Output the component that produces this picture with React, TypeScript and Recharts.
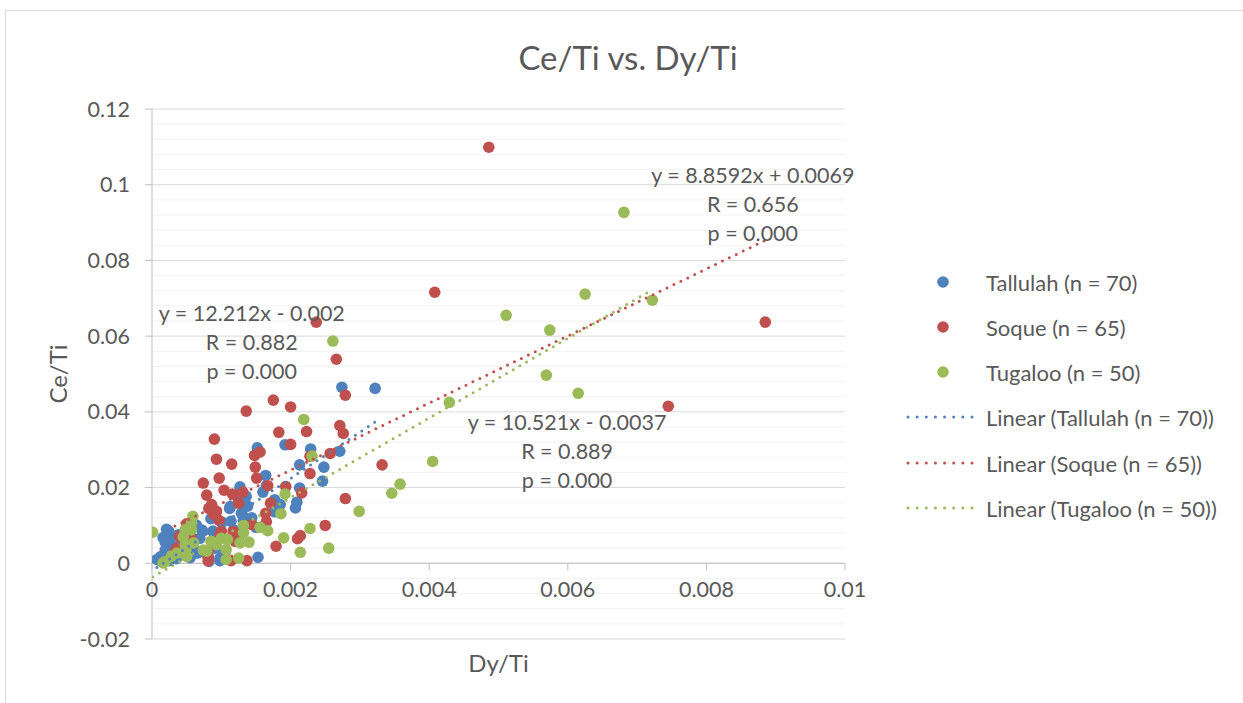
import { ScatterChart, Scatter, XAxis, YAxis, CartesianGrid, ReferenceLine, ReferenceDot, Label } from 'recharts';

const FONT = 'Lato, "Liberation Sans", sans-serif';
const TEXT = '#595959';
const BLUE = '#4F81BD';
const RED = '#C0504D';
const GREEN = '#9BBB59';

// chart frame
const W = 1243;
const H = 703;
const PLOT_LEFT = 152;
const PLOT_RIGHT = 845;
const PLOT_TOP = 109;
const PLOT_BOTTOM = 639;
const Y_MIN = -0.02;
const Y_MAX = 0.12;
const ZERO_Y = PLOT_TOP + ((PLOT_BOTTOM - PLOT_TOP) * Y_MAX) / (Y_MAX - Y_MIN);

const xTicks = [0, 0.002, 0.004, 0.006, 0.008, 0.01];
const yTicks = [-0.02, 0, 0.02, 0.04, 0.06, 0.08, 0.1, 0.12];
const yMinorTicks: number[] = [];
for (let k = 0; k <= 35; k++) {
  if (k % 5 !== 0) yMinorTicks.push(+(Y_MIN + k * 0.004).toFixed(4));
}

// Dy/Ti, Ce/Ti pairs
const tallulah: [number, number][] = [
  [0.00322, 0.0462], [0.00274, 0.0465], [0.00192, 0.0313], [0.00152, 0.0305], [0.00229, 0.0302],
  [0.00271, 0.0296], [0.00248, 0.0254], [0.00246, 0.0217], [0.00213, 0.026], [0.00213, 0.0199],
  [0.00209, 0.0161], [0.00207, 0.0146], [0.00164, 0.0232], [0.00165, 0.0205], [0.00127, 0.0202],
  [0.00136, 0.0177], [0.00138, 0.0151], [0.00112, 0.0145], [0.00114, 0.0111], [0.00177, 0.0168],
  [0.00177, 0.0136], [0.00144, 0.012], [0.00132, 0.0114], [0.00101, 0.0108], [0.00088, 0.0085],
  [0.00073, 0.0085], [0.0006, 0.0063], [0.00024, 0.0085], [0.00019, 0.0056], [0.00031, 0.004],
  [0.00007, 0.001], [0.00025, 0.0007], [0.00043, 0.0023], [0.00065, 0.0027], [0.00082, 0.0005],
  [0.00098, 0.0007], [0.00153, 0.0016], [0.00127, 0.0076], [0.00021, 0.009], [0.00026, 0.0062],
  [0.00019, 0.0035], [0.00012, 0.0017], [0.00014, 0.0004], [0.00047, 0.0079], [0.00038, 0.0044],
  [0.00057, 0.0053], [0.00069, 0.0066], [0.00072, 0.0088], [0.00069, 0.0031], [0.00081, 0.0017],
  [0.00098, 0.0013], [0.00113, 0.015], [0.00125, 0.0167], [0.00129, 0.0132], [0.00064, 0.0101],
  [0.00096, 0.0079], [0.00091, 0.004], [0.00038, 0.0075], [0.00052, 0.0031], [0.00132, 0.0123],
  [0.00035, 0.0012], [0.00055, 0.0015], [0.00016, 0.0068], [0.00085, 0.0118], [0.00118, 0.0088],
  [0.00042, 0.0058], [0.00105, 0.0027], [0.0015, 0.0095], [0.00185, 0.0155], [0.0016, 0.0188],
];

const soque: [number, number][] = [
  [0.00486, 0.1099], [0.00408, 0.0716], [0.00885, 0.0637], [0.00745, 0.0415], [0.00237, 0.0637],
  [0.00266, 0.0539], [0.00279, 0.0444], [0.00175, 0.0431], [0.002, 0.0413], [0.00136, 0.0402],
  [0.00271, 0.0364], [0.00276, 0.0343], [0.00183, 0.0346], [0.002, 0.0314], [0.00223, 0.0348],
  [0.0009, 0.0328], [0.00332, 0.026], [0.00279, 0.0171], [0.00093, 0.0275], [0.00115, 0.0262],
  [0.00074, 0.0212], [0.00079, 0.018], [0.00097, 0.0225], [0.00149, 0.0254], [0.00148, 0.0285],
  [0.00156, 0.0294], [0.00151, 0.0225], [0.00228, 0.0237], [0.00228, 0.0283], [0.00104, 0.0193],
  [0.00116, 0.0183], [0.00131, 0.0188], [0.00125, 0.0159], [0.00167, 0.0205], [0.00171, 0.0159],
  [0.00193, 0.0203], [0.00216, 0.0186], [0.00164, 0.0132], [0.00082, 0.0145], [0.00089, 0.0129],
  [0.00097, 0.0113], [0.0005, 0.0104], [0.00098, 0.0076], [0.00081, 0.0018], [0.00114, 0.0007],
  [0.00137, 0.0007], [0.00179, 0.0045], [0.0021, 0.0065], [0.00214, 0.0073], [0.0025, 0.01],
  [0.0012, 0.0076], [0.0004, 0.0071], [0.00036, 0.004], [0.00086, 0.0155], [0.00093, 0.0137],
  [0.001, 0.0085], [0.0012, 0.0058], [0.00081, 0.0032], [0.00081, 0.0006], [0.00257, 0.029],
  [0.00144, 0.0102], [0.00165, 0.011], [0.00056, 0.0071], [0.00033, 0.0031], [0.00117, 0.0084],
];

const tugaloo: [number, number][] = [
  [0.00681, 0.0927], [0.00625, 0.0711], [0.00722, 0.0695], [0.00511, 0.0655], [0.00574, 0.0616],
  [0.00569, 0.0497], [0.00615, 0.0449], [0.00429, 0.0425], [0.00261, 0.0587], [0.00219, 0.038],
  [0.00405, 0.0269], [0.00358, 0.0209], [0.00346, 0.0185], [0.00299, 0.0137], [0.00255, 0.004],
  [0.00214, 0.0029], [0.00228, 0.0092], [0.00231, 0.0283], [0.00001, 0.0082], [0.0019, 0.0067],
  [0.00192, 0.0183], [0.00186, 0.0131], [0.00156, 0.0095], [0.00167, 0.0086], [0.0014, 0.0056],
  [0.00127, 0.0054], [0.00132, 0.01], [0.00109, 0.0063], [0.00107, 0.0036], [0.00107, 0.001],
  [0.00125, 0.0014], [0.00093, 0.0049], [0.00079, 0.0032], [0.00059, 0.0124], [0.00048, 0.0089],
  [0.00057, 0.0088], [0.00036, 0.0027], [0.0006, 0.0054], [0.00049, 0.0036], [0.00016, 0.0001],
  [0.00057, 0.0106], [0.00045, 0.007], [0.00048, 0.0048], [0.0005, 0.0018], [0.00074, 0.0035],
  [0.00019, 0.0004], [0.00132, 0.0081], [0.00085, 0.0058], [0.001, 0.0066], [0.00028, 0.0019],
];

// trendline equations as printed on the chart
const fitSlopes = [12.212, 8.8592, 10.521];
const fitIntercepts = [-0.002, 0.0069, -0.0037];
const fitLabels = [
  ['y = 12.212x - 0.002', 'R = 0.882', 'p = 0.000'],
  ['y = 8.8592x + 0.0069', 'R = 0.656', 'p = 0.000'],
  ['y = 10.521x - 0.0037', 'R = 0.889', 'p = 0.000'],
];
// where each equation block sits (data units, first line)
const fitLabelX = [0.00144, 0.00867, 0.00599];
const fitLabelY = [0.0661, 0.1026, 0.0374];

const seriesNames = ['Tallulah (n = 70)', 'Soque (n = 65)', 'Tugaloo (n = 50)'];
const seriesColors = [BLUE, RED, GREEN];
const seriesData = [tallulah, soque, tugaloo];

const fmt = (v: number) => String(+v.toFixed(4));

const toPoints = (arr: [number, number][]) => arr.map(([x, y]) => ({ x, y }));

const trendPoints = (i: number) => {
  const xs = seriesData[i].map((p) => p[0]);
  const lo = Math.min(...xs);
  const hi = Math.max(...xs);
  return [lo, hi].map((x) => ({ x, y: fitSlopes[i] * x + fitIntercepts[i] }));
};

const XTick = (props: any) => {
  const { x, payload } = props;
  return (
    <g>
      <line x1={x} x2={x} y1={ZERO_Y} y2={ZERO_Y + 7} stroke="#BFBFBF" strokeWidth={1} />
      <text x={x} y={ZERO_Y + 34} textAnchor="middle" fill={TEXT} fontSize={21.5} fontFamily={FONT}>
        {fmt(payload.value)}
      </text>
    </g>
  );
};

const FitText = (lines: string[]) => (props: any) => {
  const { cx, cy } = props;
  return (
    <g>
      {lines.map((t, j) => (
        <text
          key={j}
          x={cx}
          y={cy + j * 29}
          textAnchor="middle"
          dominantBaseline="central"
          fill={TEXT}
          fontSize={21.5}
          fontFamily={FONT}
        >
          {t}
        </text>
      ))}
    </g>
  );
};

const Dot = (color: string) => (props: any) => (
  <circle cx={props.cx} cy={props.cy} r={5.8} fill={color} />
);

const LegendBox = () => {
  const rows = [282, 327, 372, 417, 463, 508];
  return (
    <svg
      width={W}
      height={H}
      style={{ position: 'absolute', left: 0, top: 0, pointerEvents: 'none' }}
    >
      {seriesNames.map((n, i) => (
        <g key={n}>
          <circle cx={943} cy={rows[i]} r={5.8} fill={seriesColors[i]} />
          <text x={986} y={rows[i]} dominantBaseline="central" fill={TEXT} fontSize={22} fontFamily={FONT}>
            {n}
          </text>
        </g>
      ))}
      {seriesNames.map((n, i) => (
        <g key={'lin' + n}>
          <line
            x1={908}
            x2={972}
            y1={rows[i + 3]}
            y2={rows[i + 3]}
            stroke={seriesColors[i]}
            strokeWidth={3}
            strokeLinecap="round"
            strokeDasharray="0 9.14"
          />
          <text x={986} y={rows[i + 3]} dominantBaseline="central" fill={TEXT} fontSize={22} fontFamily={FONT}>
            {`Linear (${n})`}
          </text>
        </g>
      ))}
    </svg>
  );
};

export default function App() {
  return (
    <div style={{ position: 'absolute', left: 0, top: 0, width: W, height: H, background: '#fff', overflow: 'hidden' }}>
      <div
        style={{
          position: 'absolute',
          left: 5,
          top: 10,
          width: W,
          height: H,
          border: '1px solid #D9D9D9',
          boxSizing: 'border-box',
        }}
      />
      <div
        style={{
          position: 'absolute',
          left: 0,
          width: 1256,
          top: 36,
          textAlign: 'center',
          fontFamily: FONT,
          fontSize: 33,
          color: TEXT,
          lineHeight: '42px',
        }}
      >
        Ce/Ti vs. Dy/Ti
      </div>
      <div style={{ position: 'absolute', left: 0, top: 0 }}>
        <ScatterChart
          width={W}
          height={H}
          margin={{ top: PLOT_TOP, right: W - PLOT_RIGHT, bottom: 0, left: 0 }}
        >
          <CartesianGrid horizontalValues={yMinorTicks} vertical={false} stroke="#F2F2F2" strokeWidth={1} />
          <CartesianGrid vertical={false} stroke="#D9D9D9" strokeWidth={1} />
          <XAxis
            type="number"
            dataKey="x"
            domain={[0, 0.01]}
            ticks={xTicks}
            height={H - PLOT_BOTTOM}
            axisLine={false}
            tickLine={false}
            tick={<XTick />}
            interval={0}
            allowDataOverflow
          >
            <Label
              content={() => (
                <text
                  x={(PLOT_LEFT + PLOT_RIGHT) / 2}
                  y={662}
                  textAnchor="middle"
                  dominantBaseline="central"
                  fill={TEXT}
                  fontSize={24}
                  fontFamily={FONT}
                >
                  Dy/Ti
                </text>
              )}
            />
          </XAxis>
          <YAxis
            type="number"
            dataKey="y"
            domain={[Y_MIN, Y_MAX]}
            ticks={yTicks}
            width={PLOT_LEFT}
            interval={0}
            allowDataOverflow
            axisLine={{ stroke: '#BFBFBF' }}
            tickLine={{ stroke: '#BFBFBF' }}
            tickSize={7}
            tickMargin={15}
            tickFormatter={fmt}
            tick={{ fill: TEXT, fontSize: 21.5, fontFamily: FONT }}
          >
            <Label
              content={() => (
                <text
                  x={57}
                  y={(PLOT_TOP + PLOT_BOTTOM) / 2}
                  transform={`rotate(-90 57 ${(PLOT_TOP + PLOT_BOTTOM) / 2})`}
                  textAnchor="middle"
                  dominantBaseline="central"
                  fill={TEXT}
                  fontSize={24}
                  fontFamily={FONT}
                >
                  Ce/Ti
                </text>
              )}
            />
          </YAxis>
          <ReferenceLine y={0} stroke="#BFBFBF" strokeWidth={1} />
          {seriesData.map((d, i) => (
            <Scatter
              key={seriesNames[i]}
              name={seriesNames[i]}
              data={toPoints(d)}
              fill={seriesColors[i]}
              shape={Dot(seriesColors[i])}
              isAnimationActive={false}
            />
          ))}
          {seriesData.map((_, i) => (
            <Scatter
              key={'fit' + i}
              name={`Linear (${seriesNames[i]})`}
              data={trendPoints(i)}
              fill={seriesColors[i]}
              line={{
                stroke: seriesColors[i],
                strokeWidth: 3,
                strokeLinecap: 'round',
                strokeDasharray: '0 7.7',
              }}
              shape={() => <g />}
              isAnimationActive={false}
            />
          ))}
          {fitLabels.map((lines, i) => (
            <ReferenceDot
              key={'lbl' + i}
              x={fitLabelX[i]}
              y={fitLabelY[i]}
              r={0}
              ifOverflow="visible"
              shape={FitText(lines)}
            />
          ))}
        </ScatterChart>
      </div>
      <LegendBox />
    </div>
  );
}
